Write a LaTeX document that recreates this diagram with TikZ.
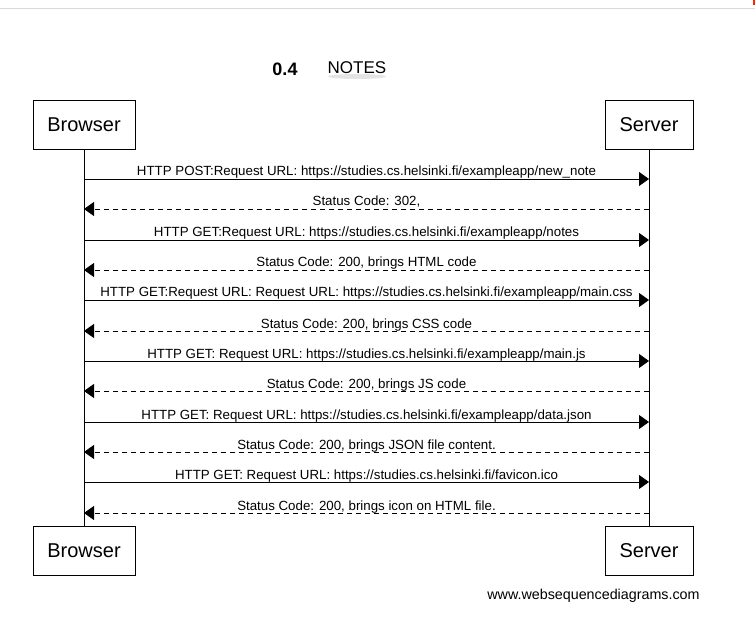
\documentclass[tikz,border=0pt]{standalone}
\usepackage{fontspec}
\setmainfont{Liberation Sans}
\usetikzlibrary{arrows.meta}
\begin{document}
\begin{tikzpicture}[x=1pt,y=-1pt,
  actor/.style={draw,line width=0.8pt,minimum width=#1,minimum height=49pt,inner sep=0pt,font=\fontsize{20}{23}\selectfont},
  lifeline/.style={line width=0.8pt},
  req/.style={line width=0.8pt,-{Triangle[length=10pt,width=14pt]}},
  resp/.style={line width=0.8pt,dash pattern=on 5pt off 4pt,-{Triangle[length=10pt,width=14pt]}},
  lbl/.style={font=\fontsize{13.3}{15}\selectfont,inner sep=0pt,anchor=base}]
\useasboundingbox (0,0) rectangle (755,620);
\draw[line width=1pt,black!15] (0,8.5) -- (755,8.5);
\fill[red!70!orange] (753,0) rectangle (755,5);
\fill[black!30,opacity=0.35] (357,76.5) ellipse (29pt and 2.5pt);
\node[font=\fontsize{18}{21}\selectfont\bfseries,anchor=base] (t1) at (285,76) {0.4};
\node[font=\fontsize{17}{20}\selectfont,anchor=base] (t2) at (357,74) {NOTES};
\node[actor=102pt] (b1) at (84,124.5) {Browser};
\node[actor=88pt] (s1) at (649,124.5) {Server};
\node[actor=102pt] (b2) at (84,550.5) {Browser};
\node[actor=88pt] (s2) at (649,550.5) {Server};
\draw[lifeline] (b1.south) -- (b2.north);
\draw[lifeline] (s1.south) -- (s2.north);
\foreach \y/\txt in {
 179/{HTTP POST:Request URL: https://studies.cs.helsinki.fi/exampleapp/new\_note},
 209/{Status Code: 302,},
 240/{HTTP GET:Request URL: https://studies.cs.helsinki.fi/exampleapp/notes},
 270/{Status Code: 200, brings HTML code},
 300/{HTTP GET:Request URL: Request URL: https://studies.cs.helsinki.fi/exampleapp/main.css},
 331/{Status Code: 200, brings CSS code},
 361/{HTTP GET: Request URL: https://studies.cs.helsinki.fi/exampleapp/main.js},
 391/{Status Code: 200, brings JS code},
 422/{HTTP GET: Request URL: https://studies.cs.helsinki.fi/exampleapp/data.json},
 452/{Status Code: 200, brings JSON file content.},
 482/{HTTP GET: Request URL: https://studies.cs.helsinki.fi/favicon.ico},
 513/{Status Code: 200, brings icon on HTML file.}}{
  \node[lbl] (m\y) at (366.5,\y-3) {\txt};
}
\foreach \y in {179,240,300,361,422,482} \draw[req] (b1.south |- 0,\y) -- (s1.south |- 0,\y);
\foreach \y in {209,270,331,391,452,513} \draw[resp] (s1.south |- 0,\y) -- (b1.south |- 0,\y);
\node[font=\fontsize{14.3}{16}\selectfont,anchor=base] (wsd) at (593.5,599) {www.websequencediagrams.com};
\end{tikzpicture}
\end{document}
